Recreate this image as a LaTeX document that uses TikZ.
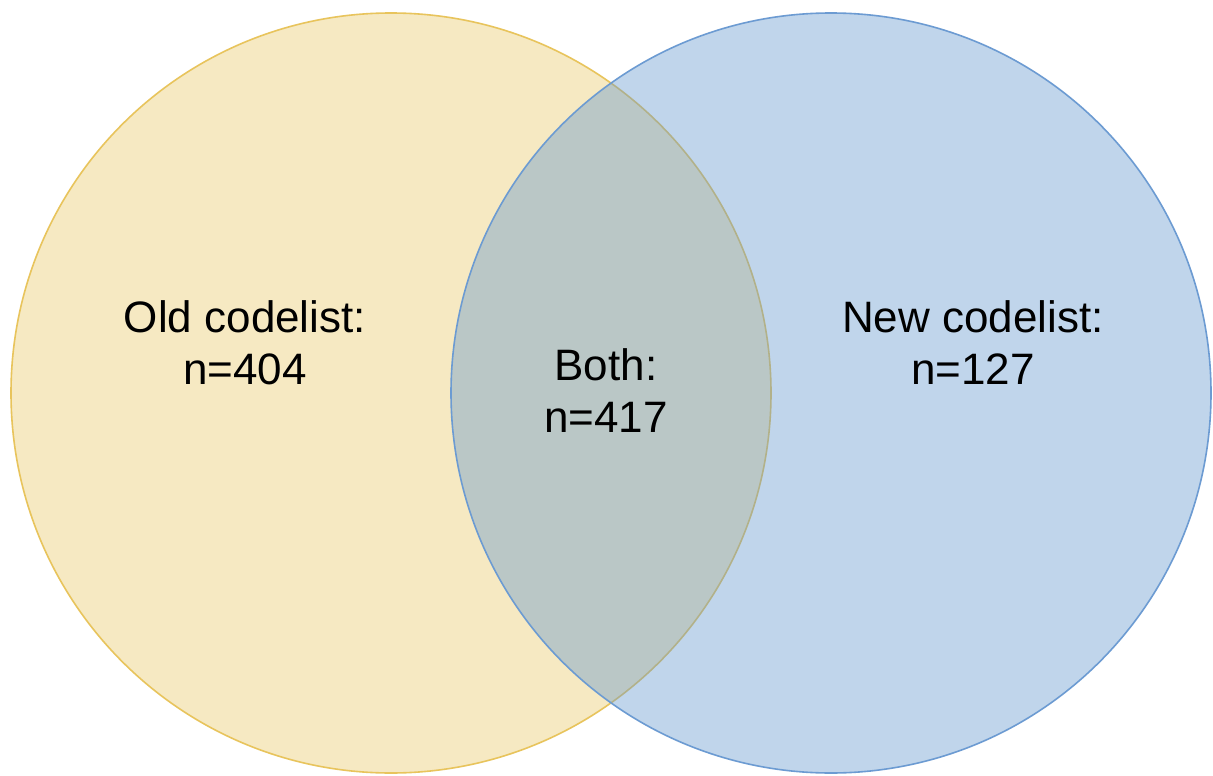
\documentclass[tikz,border=0pt]{standalone}
\usepackage{fontspec}
\setmainfont{Liberation Sans}
\definecolor{oldfill}{RGB}{246,233,194}
\definecolor{oldline}{RGB}{232,196,92}
\definecolor{newfill}{RGB}{98,150,205}
\definecolor{newline}{RGB}{108,155,210}
\tikzset{
  setlabel/.style={anchor=base, inner sep=0pt, font=\fontsize{44}{52}\selectfont, text=black},
  oldset/.style={circle, minimum size=760pt, inner sep=0pt, fill=oldfill, draw=oldline, line width=1.6pt},
  newset/.style={circle, minimum size=760pt, inner sep=0pt, fill=newfill, fill opacity=0.4, draw=newline, draw opacity=1, line width=1.6pt},
}
\begin{document}
\begin{tikzpicture}[x=1pt, y=-1pt]
\useasboundingbox (0,0) rectangle (1213,776);
\fill[white] (0,0) rectangle (1213,776);
\node[oldset] (old) at (391,393) {};
\node[newset] (new) at (831,393) {};
\node[setlabel] (oldtitle) at (245,332) {Old codelist:};
\node[setlabel] (oldn) at (245,384) {n=404};
\node[setlabel] (bothtitle) at (606,380) {Both:};
\node[setlabel] (bothn) at (606,432) {n=417};
\node[setlabel] (newtitle) at (973,332) {New codelist:};
\node[setlabel] (newn) at (973,384) {n=127};
\end{tikzpicture}
\end{document}
